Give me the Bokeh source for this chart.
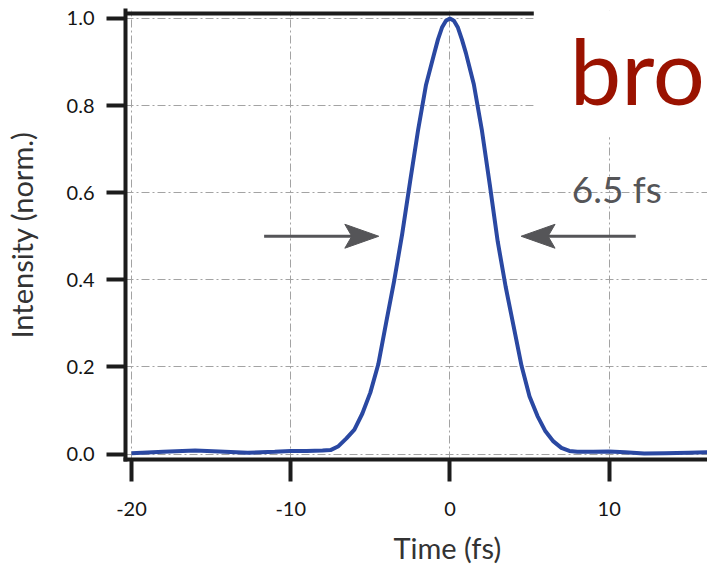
from bokeh.plotting import figure
from bokeh.models import Range1d, FixedTicker, Label, Title
from bokeh.embed import file_html
from bokeh.resources import INLINE

# ---- data ----
TIME_FS = [-20.0, -18.0, -16.0, -14.5, -12.7, -11.0, -10.0, -9.0, -8.0, -7.5,
           -7.0, -6.5, -6.0, -5.5, -5.0, -4.5, -4.0, -3.5, -3.0, -2.5,
           -2.0, -1.5, -1.0, -0.75, -0.5, -0.25, 0.0, 0.25, 0.5, 0.75, 1.0, 1.5,
           2.0, 2.5, 3.0, 3.5, 4.0, 4.5, 5.0, 5.5, 6.0, 6.5,
           7.0, 7.5, 8.0, 9.0, 10.0, 11.0, 12.2, 13.5, 15.0, 16.2]
INTENSITY = [0.002, 0.005, 0.008, 0.006, 0.003, 0.005, 0.007, 0.007, 0.008, 0.009,
             0.018, 0.036, 0.056, 0.093, 0.141, 0.206, 0.303, 0.398, 0.505, 0.626,
             0.744, 0.848, 0.918, 0.952, 0.979, 0.995, 1.000, 0.995, 0.979, 0.952, 0.921, 0.849,
             0.745, 0.619, 0.488, 0.384, 0.293, 0.202, 0.132, 0.087, 0.052, 0.029,
             0.014, 0.007, 0.005, 0.005, 0.006, 0.004, 0.001, 0.002, 0.003, 0.004]

X_TICKS = [-20, -10, 0, 10]
X_TICK_LABELS = ["-20", "-10", "0", "10"]
Y_TICKS = [0.0, 0.2, 0.4, 0.6, 0.8, 1.0]
Y_TICK_LABELS = ["0.0", "0.2", "0.4", "0.6", "0.8", "1.0"]

FWHM_TEXT = "6.5 fs"
ARROW_Y = 0.5
ARROW_TIP = 4.47
ARROW_TAIL = 11.67
CORNER_TEXT = "bro"

# ---- layout (page pixels) ----
W, H = 707, 574
BL, BR, BT, BB = 124, 0, 10, 114
X_START, X_END = -20.376, 16.176
Y_START, Y_END = -0.0126, 1.0183
FW, FH = W - BL - BR, H - BT - BB
PX_X = FW / (X_END - X_START)   # pixels per data unit
PX_Y = FH / (Y_END - Y_START)


def dx(px):
    return (px - BL) / PX_X + X_START


def dy(py):
    return Y_END - (py - BT) / PX_Y


FONT = "Lato"
AXIS_COL = "#1c1c1c"
GRID_COL = "#a3a3a3"
CURVE_COL = "#2a48a2"
ARROW_COL = "#555558"

p = figure(width=W, height=H, output_backend="svg", toolbar_location=None,
           x_range=Range1d(X_START, X_END), y_range=Range1d(Y_START, Y_END),
           min_border_left=BL, min_border_right=BR, min_border_top=BT,
           min_border_bottom=BB)
p.outline_line_color = None
p.background_fill_color = "white"
p.border_fill_color = "white"

# grid
p.xgrid.ticker = FixedTicker(ticks=X_TICKS)
p.ygrid.ticker = FixedTicker(ticks=Y_TICKS)
for g in (p.xgrid, p.ygrid):
    g.grid_line_color = GRID_COL
    g.grid_line_width = 1
    g.grid_line_dash = "8 3 2 3"

# axes
p.xaxis.ticker = FixedTicker(ticks=X_TICKS)
p.xaxis.major_label_overrides = dict(zip(X_TICKS, X_TICK_LABELS))
p.yaxis.ticker = FixedTicker(ticks=Y_TICKS)
p.yaxis.major_label_overrides = dict(zip(Y_TICKS, Y_TICK_LABELS))
for ax in (p.xaxis, p.yaxis):
    ax.axis_line_color = AXIS_COL
    ax.axis_line_width = 4
    ax.axis_line_cap = "square"
    ax.major_tick_line_color = AXIS_COL
    ax.major_tick_line_width = 4
    ax.major_tick_in = 0
    ax.minor_tick_line_color = None
    ax.major_label_text_font = FONT
    ax.major_label_text_font_size = "20px"
    ax.major_label_text_color = "#141414"
p.xaxis.major_tick_out = 22
p.xaxis.major_label_standoff = 20
p.yaxis.major_tick_out = 19
p.yaxis.major_label_standoff = 12
p.yaxis.axis_label = "Intensity (norm.)"
p.yaxis.axis_label_text_font = FONT
p.yaxis.axis_label_text_font_size = "29px"
p.yaxis.axis_label_text_font_style = "normal"
p.yaxis.axis_label_text_color = "#333333"
p.yaxis.axis_label_standoff = 25

# x axis title, placed under the 0 tick
p.add_layout(Title(text="Time (fs)", align="left", offset=268, standoff=19,
                   text_font=FONT, text_font_size="29px", text_font_style="normal",
                   text_color="#333333"), "below")

# white cover in upper-right (slide overlay) and partial top frame line
cover_left = dx(533)
cover_bottom = dy(137)
p.quad(left=[cover_left], right=[X_END + 1], bottom=[cover_bottom], top=[Y_END + 1],
       fill_color="white", line_color=None)
top_y = dy(13)
p.segment(x0=[X_START], y0=[top_y], x1=[cover_left], y1=[top_y],
          line_color=AXIS_COL, line_width=4)

# curve
p.line(TIME_FS, INTENSITY, line_color=CURVE_COL, line_width=4, line_join="round")

# FWHM arrows
head_len = 34 / PX_X
notch = 27 / PX_X
half_w = 12 / PX_Y
for sgn in (-1, 1):
    tip = sgn * ARROW_TIP
    tail = sgn * ARROW_TAIL
    p.segment(x0=[tail], y0=[ARROW_Y], x1=[tip + sgn * notch * 0.9], y1=[ARROW_Y],
              line_color=ARROW_COL, line_width=3)
    p.patch(x=[tip, tip + sgn * head_len, tip + sgn * notch, tip + sgn * head_len],
            y=[ARROW_Y, ARROW_Y + half_w, ARROW_Y, ARROW_Y - half_w],
            fill_color=ARROW_COL, line_color=ARROW_COL, line_width=1)

# texts (baseline positions compensated for renderer offset)
p.add_layout(Label(x=dx(571), y=dy(200 - 12),
                   text=FWHM_TEXT, text_font=FONT, text_font_size="37px",
                   text_color=ARROW_COL, text_baseline="alphabetic", text_align="left"))
p.add_layout(Label(x=dx(569), y=dy(105 - 36),
                   text=CORNER_TEXT, text_font=FONT, text_font_size="92px",
                   text_color="#9a1200", text_baseline="alphabetic", text_align="left"))

open("out.html", "w").write(file_html(p, INLINE))
